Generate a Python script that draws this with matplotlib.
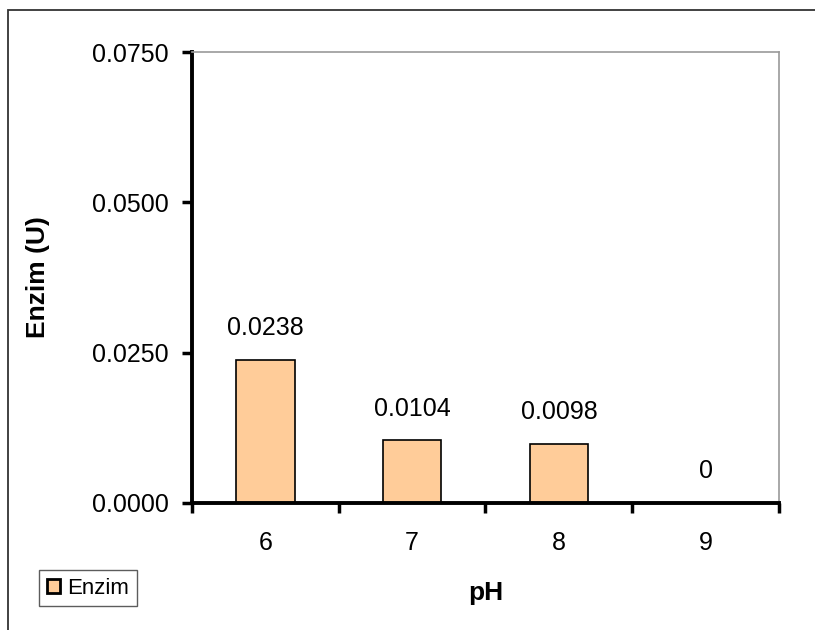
import matplotlib.pyplot as plt
from matplotlib.patches import Rectangle

plt.rcParams['font.family'] = ['Liberation Sans', 'DejaVu Sans']

ph = ['6', '7', '8', '9']
enzim = [0.0238, 0.0104, 0.0098, 0.0]
labels = ['0.0238', '0.0104', '0.0098', '0']
yticks = [0.0, 0.025, 0.05, 0.075]

fig = plt.figure(figsize=(8.15, 6.3), dpi=100)
ax = fig.add_axes([192 / 815, 1 - 503 / 630, (779 - 192) / 815, (503 - 52) / 630])

x = list(range(len(ph)))
bars = ax.bar(x, enzim, width=0.4, color='#ffcc99', edgecolor='black', linewidth=1.2, label='Enzim')

for bar, lab in zip(bars, labels):
    ax.text(bar.get_x() + bar.get_width() / 2, bar.get_height() + 0.0033, lab,
            ha='center', va='bottom', fontsize=18)

ax.set_xlim(-0.5, len(ph) - 0.5)
ax.set_ylim(0, 0.075)
ax.set_yticks(yticks)
ax.set_yticklabels([f'{v:.4f}' for v in yticks], fontsize=18)
ax.set_xticks(x)
ax.set_xticklabels(ph, fontsize=18)
ax.tick_params(axis='x', length=0, pad=20)
# category boundaries carry the x tick marks
ax.set_xticks([i - 0.5 for i in range(len(ph) + 1)], minor=True)
ax.tick_params(axis='x', which='minor', length=7, width=2.5, direction='out')
ax.tick_params(axis='y', length=7, width=2.5, direction='out', pad=10)

for side in ('left', 'bottom'):
    ax.spines[side].set_linewidth(2.8)
for side in ('top', 'right'):
    ax.spines[side].set_color('#999999')
    ax.spines[side].set_linewidth(1.2)

ax.set_xlabel('pH', fontsize=19, fontweight='bold')
ax.set_ylabel('Enzim (U)', fontsize=19, fontweight='bold')
ax.xaxis.set_label_coords(0.5, -(593 - 503) / (503 - 52))
ax.xaxis.label.set_va('center')
ax.yaxis.set_label_coords(-(192 - 38) / (779 - 192), (503 - 277) / (503 - 52))
ax.yaxis.label.set_va('center')

leg = ax.legend(loc='center', bbox_to_anchor=(88 / 815, 1 - 588 / 630), bbox_transform=fig.transFigure,
                fontsize=16, frameon=True, fancybox=False, edgecolor='#333333',
                handlelength=0.6, handleheight=0.6, handletextpad=0.35, borderpad=0.35)
leg.get_frame().set_linewidth(1.0)
leg.legend_handles[0].set_linewidth(2.0)

# outer chart border
fig.patches.append(Rectangle((8 / 815, -0.5), 1.5, 1.5 - 10 / 630, transform=fig.transFigure,
                             fill=False, edgecolor='#333333', linewidth=1.3))

fig.savefig('out.png', dpi=100)
